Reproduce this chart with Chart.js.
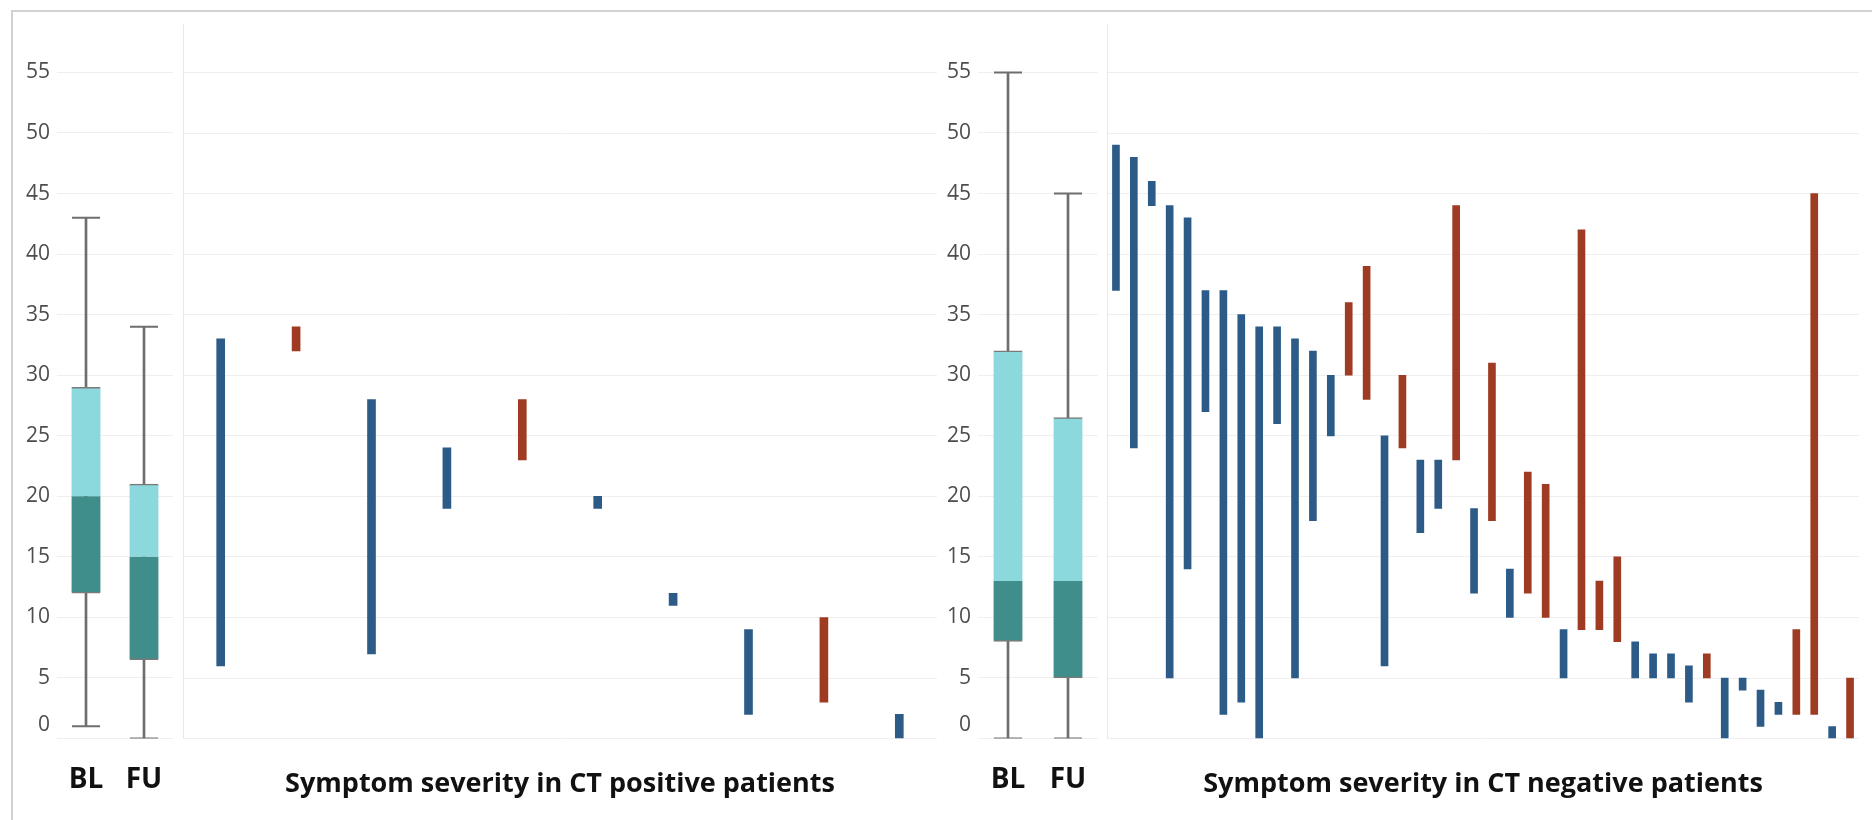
<!DOCTYPE html>
<html>
<head>
<meta charset="utf-8">
<title>Symptom severity</title>
<script src="https://cdn.jsdelivr.net/npm/chart.js@4.4.1/dist/chart.umd.min.js"></script>
<style>
  html, body { margin: 0; padding: 0; background: #ffffff; }
  #frame { position: absolute; left: 0; top: 0; width: 1872px; height: 820px; overflow: hidden; }
  #edge { position: absolute; left: 11px; top: 10px; right: -20px; bottom: -20px;
          border-top: 2px solid #d2d2d2; border-left: 2px solid #d2d2d2; }
  canvas { position: absolute; left: 0; top: 0; }
</style>
</head>
<body>
<div id="frame">
  <div id="edge"></div>
  <canvas id="posBox" width="1872" height="820"></canvas>
  <canvas id="posBars" width="1872" height="820"></canvas>
  <canvas id="negBox" width="1872" height="820"></canvas>
  <canvas id="negBars" width="1872" height="820"></canvas>
</div>
<script>
// Box plot summaries: baseline (BL) and follow-up (FU)
const boxLabels = ['BL', 'FU'];
const posBoxMin    = [1, 0];
const posBoxQ1     = [12, 6.5];
const posBoxMedian = [20, 15];
const posBoxQ3     = [29, 21];
const posBoxMax    = [43, 34];

const negBoxMin    = [0, 0];
const negBoxQ1     = [8, 5];
const negBoxMedian = [13, 13];
const negBoxQ3     = [32, 26.5];
const negBoxMax    = [55, 45];

// CT positive patients, sorted by baseline score
const posPatients = ['P1', 'P2', 'P3', 'P4', 'P5', 'P6', 'P7', 'P8', 'P9', 'P10'];
const posBaseline = [33, 32, 28, 24, 23, 20, 12, 9, 3, 2];
const posFollowUp = [6, 34, 7, 19, 28, 19, 11, 2, 10, 0];

// CT negative patients, sorted by baseline score
const negPatients = Array.from({ length: 42 }, (_, i) => 'N' + (i + 1));
const negBaseline = [49, 48, 46, 44, 43, 37, 37, 35, 34, 34, 33, 32, 30, 30, 28, 25, 24, 23, 23, 23, 19,
                     18, 14, 12, 10, 9, 9, 9, 8, 8, 7, 7, 6, 5, 5, 5, 4, 3, 2, 2, 1, 0];
const negFollowUp = [37, 24, 44, 5, 14, 27, 2, 3, 0, 26, 5, 18, 25, 36, 39, 6, 30, 17, 19, 44, 12,
                     31, 10, 22, 21, 5, 42, 13, 15, 5, 5, 5, 3, 7, 0, 4, 1, 2, 9, 45, 0, 5];

const yTicks = [0, 5, 10, 15, 20, 25, 30, 35, 40, 45, 50, 55];
const panelTitles = ['Symptom severity in CT positive patients', 'Symptom severity in CT negative patients'];

const COLORS = {
  improved: '#2c5b88',
  worsened: '#9e3b22',
  boxLow: '#3f8e8c',
  boxHigh: '#8cd9dd',
  whisker: '#6e6e6e',
  grid: '#efefef',
  separator: '#e9e9e9',
  tick: '#4d4d4d',
  label: '#111111'
};

const W = 1872;
const PLOT_TOP = 24;
const Y_MAX = 59;
const LABEL_FONT = { family: '"Open Sans"', weight: 'bold', size: 28 };
const TITLE_FONT = { family: '"Open Sans"', weight: 'bold', size: 27 };

// Axis labels kept inside the plot, so the lowest one is nudged up like the panel style
const insideYLabels = {
  id: 'insideYLabels',
  afterDraw(chart, args, opts) {
    if (!opts || !opts.display) return;
    const scale = chart.scales.y;
    const area = chart.chartArea;
    const ctx = chart.ctx;
    ctx.save();
    ctx.font = opts.font;
    ctx.fillStyle = opts.color;
    ctx.textAlign = 'right';
    ctx.textBaseline = 'middle';
    scale.ticks.forEach(t => {
      const y = Math.min(scale.getPixelForValue(t.value), area.bottom - opts.bottomInset);
      ctx.fillText(String(t.value), area.left - opts.gap, y);
    });
    ctx.restore();
  }
};

function yScale(showBorder) {
  return {
    min: 0,
    max: Y_MAX,
    afterBuildTicks: s => { s.ticks = yTicks.map(v => ({ value: v })); },
    ticks: { display: false },
    grid: { color: COLORS.grid, lineWidth: 1, drawTicks: false },
    border: { display: showBorder, color: COLORS.separator, width: 1 }
  };
}

function boxChart(id, left, right, s) {
  const whiskers = boxLabels.map((_, i) => [s.min[i], s.max[i]]);
  const lower = boxLabels.map((_, i) => [s.q1[i], s.median[i]]);
  const upper = boxLabels.map((_, i) => [s.median[i], s.q3[i]]);
  return new Chart(document.getElementById(id), {
    type: 'bar',
    data: {
      labels: boxLabels,
      datasets: [
        { data: whiskers, backgroundColor: COLORS.whisker, barThickness: 2, grouped: false, order: 3 },
        { data: lower, backgroundColor: COLORS.boxLow, borderColor: '#7a7a7a',
          borderWidth: { top: 0, bottom: 1.5, left: 0, right: 0 }, borderSkipped: false,
          barThickness: 29, grouped: false, order: 2 },
        { data: upper, backgroundColor: COLORS.boxHigh, borderColor: '#7a7a7a',
          borderWidth: { top: 1.5, bottom: 0, left: 0, right: 0 }, borderSkipped: false,
          barThickness: 29, grouped: false, order: 2 },
        { type: 'line', data: s.max, showLine: false, pointStyle: 'line', pointRadius: 14,
          pointBorderWidth: 2, pointBorderColor: COLORS.whisker, order: 1 },
        { type: 'line', data: s.min, showLine: false, pointStyle: 'line', pointRadius: 14,
          pointBorderWidth: 2, pointBorderColor: COLORS.whisker, order: 1 }
      ]
    },
    options: {
      responsive: false,
      animation: false,
      devicePixelRatio: 1,
      layout: { padding: { left: left, right: W - right, top: PLOT_TOP, bottom: 6 } },
      scales: {
        x: {
          type: 'category',
          offset: true,
          grid: { display: false },
          border: { display: false },
          ticks: { color: COLORS.label, padding: 17, font: LABEL_FONT }
        },
        y: yScale(false)
      },
      plugins: {
        legend: { display: false },
        tooltip: { enabled: false },
        insideYLabels: { display: true, font: '21px "Open Sans"', color: COLORS.tick, gap: 7, bottomInset: 13 }
      }
    },
    plugins: [insideYLabels]
  });
}

function changeChart(id, left, right, patients, baseline, followUp, title, thickness) {
  return new Chart(document.getElementById(id), {
    type: 'bar',
    data: {
      labels: patients,
      datasets: [{
        data: baseline.map((b, i) => [b, followUp[i]]),
        backgroundColor: baseline.map((b, i) => followUp[i] > b ? COLORS.worsened : COLORS.improved),
        barThickness: thickness,
        borderWidth: 0
      }]
    },
    options: {
      responsive: false,
      animation: false,
      devicePixelRatio: 1,
      layout: { padding: { left: left, right: W - right, top: PLOT_TOP, bottom: 19 } },
      scales: {
        x: {
          type: 'category',
          offset: true,
          grid: { display: false },
          border: { display: false },
          ticks: { display: false },
          title: {
            display: true,
            text: title,
            color: COLORS.label,
            font: TITLE_FONT,
            padding: { top: 22, bottom: 0 }
          }
        },
        y: yScale(true)
      },
      plugins: { legend: { display: false }, tooltip: { enabled: false } }
    }
  });
}

boxChart('posBox', 57, 173, { min: posBoxMin, q1: posBoxQ1, median: posBoxMedian, q3: posBoxQ3, max: posBoxMax });
changeChart('posBars', 183, 937, posPatients, posBaseline, posFollowUp, panelTitles[0], 8);
boxChart('negBox', 978, 1098, { min: negBoxMin, q1: negBoxQ1, median: negBoxMedian, q3: negBoxQ3, max: negBoxMax });
changeChart('negBars', 1107, 1859, negPatients, negBaseline, negFollowUp, panelTitles[1], 7);
</script>
</body>
</html>
